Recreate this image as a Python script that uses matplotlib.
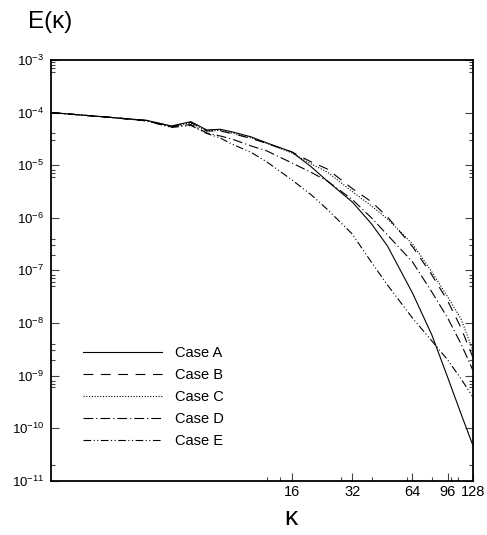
import matplotlib
matplotlib.use("Agg")
import matplotlib.pyplot as plt
from matplotlib.ticker import FixedLocator, FixedFormatter, LogFormatterSciNotation

plt.rcParams['font.family'] = ['Liberation Sans', 'DejaVu Sans']
plt.rcParams['mathtext.fontset'] = 'custom'
plt.rcParams['mathtext.rm'] = 'Liberation Sans'
plt.rcParams['mathtext.it'] = 'Liberation Sans'
plt.rcParams['lines.scale_dashes'] = False

# wavenumbers and energy spectra for the five cases
kappa = [1, 2, 3, 4, 5, 6, 7, 8, 10, 12, 16, 20, 24, 32, 40, 48, 64, 80, 96, 112, 128]

case_a = [1.0e-4, 8.07e-5, 7.11e-5, 5.56e-5, 6.71e-5, 4.67e-5, 4.81e-5, 4.32e-5, 3.45e-5, 2.64e-5,
          1.78e-5, 9.25e-6, 5.01e-6, 2.00e-6, 7.62e-7, 2.91e-7, 3.72e-8, 5.92e-9, 9.2e-10, 1.86e-10, 4.8e-11]
case_b = [1.0e-4, 8.07e-5, 7.08e-5, 5.45e-5, 6.49e-5, 4.47e-5, 4.47e-5, 4.01e-5, 3.22e-5, 2.59e-5,
          1.78e-5, 1.15e-5, 8.47e-6, 3.61e-6, 2.00e-6, 1.04e-6, 2.84e-7, 8.18e-8, 2.62e-8, 8.04e-9, 2.26e-9]
case_c = [1.0e-4, 8.07e-5, 7.08e-5, 5.45e-5, 6.34e-5, 4.47e-5, 4.57e-5, 4.09e-5, 3.29e-5, 2.59e-5,
          1.71e-5, 1.05e-5, 7.43e-6, 3.16e-6, 1.67e-6, 9.48e-7, 3.18e-7, 9.33e-8, 3.12e-8, 1.19e-8, 3.07e-9]
case_d = [1.0e-4, 8.07e-5, 6.98e-5, 5.32e-5, 5.94e-5, 4.09e-5, 3.59e-5, 3.15e-5, 2.32e-5, 1.86e-5,
          1.10e-5, 7.26e-6, 5.01e-6, 2.23e-6, 9.91e-7, 4.71e-7, 1.45e-7, 3.88e-8, 1.24e-8, 3.99e-9, 1.28e-9]
case_e = [1.0e-4, 8.07e-5, 6.92e-5, 5.21e-5, 5.69e-5, 4.01e-5, 3.29e-5, 2.53e-5, 1.75e-5, 1.15e-5,
          5.24e-6, 2.71e-6, 1.45e-6, 4.92e-7, 1.41e-7, 5.27e-8, 1.24e-8, 4.55e-9, 1.98e-9, 8.61e-10, 3.97e-10]

labels = ['Case A', 'Case B', 'Case C', 'Case D', 'Case E']
styles = ['-', (0, (7, 5.5)), (0, (0.8, 1.2)), (0, (7, 2.2, 0.8, 2.2)),
          (0, (5.5, 1.8, 0.8, 1.8, 0.8, 1.8))]

x_ticks = [16, 32, 64, 96, 128]
x_minor = [12, 14, 28, 40, 60, 80, 100, 108]
y_minor = [9e-4, 8e-4, 7e-4, 6e-4, 4e-5, 3e-5, 8e-6, 7e-6, 6e-6, 4e-7, 3e-7, 2e-7,
           8e-8, 7e-8, 6e-8, 5e-8, 4e-9, 3e-9, 2e-9, 8e-10, 7e-10, 6e-10, 2e-11]

fig = plt.figure(figsize=(4.87, 5.35), dpi=100)
ax = fig.add_axes([0.1047, 0.1015, 0.8659, 0.7864])

for series, lab, ls in zip([case_a, case_b, case_c, case_d, case_e], labels, styles):
    ax.plot(kappa, series, color='black', linestyle=ls, linewidth=0.8, label=lab)

ax.set_xscale('log')
ax.set_yscale('log')
ax.set_xlim(1, 128)
ax.set_ylim(1e-11, 1e-3)

ax.xaxis.set_major_locator(FixedLocator(x_ticks))
ax.xaxis.set_major_formatter(FixedFormatter([str(t) for t in x_ticks]))
ax.xaxis.set_minor_locator(FixedLocator(x_minor))
ax.xaxis.set_minor_formatter(FixedFormatter([''] * len(x_minor)))
ax.yaxis.set_major_locator(FixedLocator([10.0 ** p for p in range(-11, -2)]))
ax.yaxis.set_major_formatter(LogFormatterSciNotation())
ax.yaxis.set_minor_locator(FixedLocator(y_minor))
ax.yaxis.set_minor_formatter(FixedFormatter([''] * len(y_minor)))

ax.tick_params(axis='both', which='both', direction='in', top=False, right=True,
               width=0.8, color='#444444')
ax.tick_params(axis='both', which='major', length=6)
ax.tick_params(axis='both', which='minor', length=2.6)
ax.tick_params(axis='x', labelsize=10.5, pad=3)
ax.tick_params(axis='y', labelsize=9.5, pad=5)

for sp in ax.spines.values():
    sp.set_linewidth(1.3)

ax.set_xlabel('κ', fontsize=19, labelpad=5)
ax.xaxis.label.set_x(0.569)
fig.text(0.057, 0.958, 'E(κ)', fontsize=17.5, ha='left', va='center')

ax.legend(loc='upper left', bbox_to_anchor=(0.076, 0.32), frameon=False, fontsize=10.5,
          handlelength=5.4, handletextpad=0.9, labelspacing=0.55, borderpad=0, borderaxespad=0)

fig.savefig('out.png', dpi=100)
